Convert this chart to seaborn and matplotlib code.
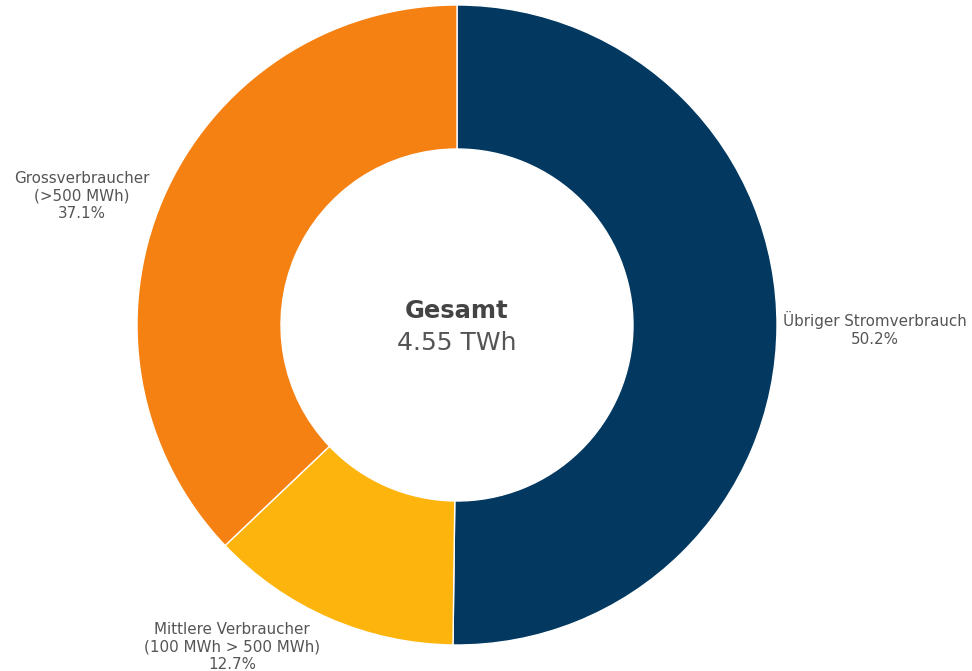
import matplotlib
matplotlib.use("Agg")
import matplotlib.pyplot as plt
import seaborn as sns

# Anteile am Stromverbrauch (im Uhrzeigersinn ab 12 Uhr)
segmente = ["Übriger Stromverbrauch", "Mittlere Verbraucher\n(100 MWh > 500 MWh)", "Grossverbraucher\n(>500 MWh)"]
anteile = [50.2, 12.7, 37.1]
farben = ["#033961", "#FDB40C", "#F58113"]
gesamt_twh = 4.55

sns.set_theme(style="white")
plt.rcParams['font.family'] = ['DejaVu Sans']

fig = plt.figure(figsize=(9.72, 6.71), dpi=100)
ax = fig.add_axes([0, 0, 1, 1])

cx, cy, r = 457, 671 - 325, 320
ax.pie(anteile, colors=sns.color_palette(farben), startangle=90, counterclock=False,
       radius=r, center=(cx, cy), frame=True,
       wedgeprops=dict(width=r * 0.45, edgecolor='white', linewidth=1))
ax.set_xlim(0, 972)
ax.set_ylim(0, 671)
ax.set_aspect('equal')
ax.axis('off')

grau = "#555555"
# Beschriftungen aussen (Pixelpositionen im Bild)
pos = [(875, 671 - 329), (232, 671 - 647), (82, 671 - 196)]
for name, wert, (x, y) in zip(segmente, anteile, pos):
    ax.text(x, y, f"{name}\n{wert:.1f}%", ha='center', va='center',
            fontsize=10.9, color=grau, linespacing=1.2)

ax.text(cx, 671 - 311, "Gesamt", ha='center', va='center', fontsize=17.5,
        fontweight='bold', color="#444444")
ax.text(cx, 671 - 343, f"{gesamt_twh:.2f} TWh", ha='center', va='center',
        fontsize=18, color=grau)

plt.savefig("out.png", dpi=100)
